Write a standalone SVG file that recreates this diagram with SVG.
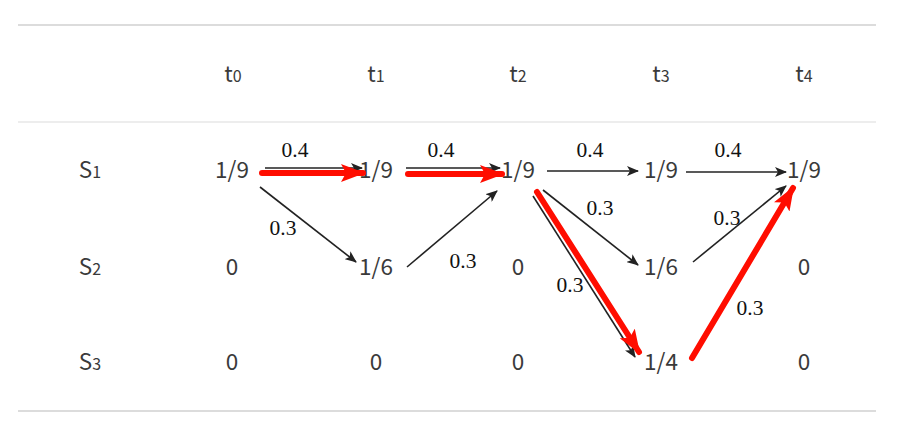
<svg xmlns="http://www.w3.org/2000/svg" width="909" height="435" viewBox="0 0 909 435">
<style>
.cell{font-family:"Noto Sans CJK SC","Noto Sans",sans-serif;font-size:22.5px;fill:#3a3a3a;text-anchor:middle}
.sub{font-size:16px}
.lbl{font-family:"Liberation Serif","Times New Roman",serif;font-size:21.5px;fill:#111;text-anchor:middle}
.rule{stroke:#dcdcdc;fill:none}
.blk{stroke:#222;stroke-width:1.6;fill:none;marker-end:url(#ah)}
.red{stroke:#ff0d00;stroke-width:6;fill:none;stroke-linecap:round;marker-end:url(#rh)}
</style>
<defs>
<marker id="ah" markerUnits="userSpaceOnUse" markerWidth="12" markerHeight="10" refX="11" refY="5" orient="auto"><path d="M0,0 L12,5 L0,10 L3,5 z" fill="#222"/></marker>
<marker id="rh" markerUnits="userSpaceOnUse" markerWidth="24" markerHeight="18" refX="22" refY="9" orient="auto"><path d="M0,0 L24,9 L0,18 L5,9 z" fill="#ff0d00"/></marker>
</defs>
<rect width="909" height="435" fill="#fff"/>
<g id="rules">
<line class="rule" x1="18" y1="25" x2="876" y2="25" stroke-width="2"/>
<line class="rule" x1="18" y1="122" x2="876" y2="122" stroke-width="1.2"/>
<line class="rule" x1="18" y1="411" x2="876" y2="411" stroke-width="2"/>
</g>
<g id="header">
<text class="cell" x="233" y="82">t<tspan class="sub">0</tspan></text>
<text class="cell" x="376" y="82">t<tspan class="sub">1</tspan></text>
<text class="cell" x="518" y="82">t<tspan class="sub">2</tspan></text>
<text class="cell" x="661" y="82">t<tspan class="sub">3</tspan></text>
<text class="cell" x="804" y="82">t<tspan class="sub">4</tspan></text>
</g>
<g id="rowlabels">
<text class="cell" x="90" y="178">S<tspan class="sub">1</tspan></text>
<text class="cell" x="90" y="275">S<tspan class="sub">2</tspan></text>
<text class="cell" x="90" y="370">S<tspan class="sub">3</tspan></text>
</g>
<g id="n-s1-t0"><text class="cell" x="232" y="178">1/9</text></g>
<g id="n-s1-t1"><text class="cell" x="376" y="178">1/9</text></g>
<g id="n-s1-t2"><text class="cell" x="518" y="178">1/9</text></g>
<g id="n-s1-t3"><text class="cell" x="661" y="178">1/9</text></g>
<g id="n-s1-t4"><text class="cell" x="804" y="178">1/9</text></g>
<g id="n-s2-t0"><text class="cell" x="232" y="275">0</text></g>
<g id="n-s2-t1"><text class="cell" x="376" y="275">1/6</text></g>
<g id="n-s2-t2"><text class="cell" x="518" y="275">0</text></g>
<g id="n-s2-t3"><text class="cell" x="661" y="275">1/6</text></g>
<g id="n-s2-t4"><text class="cell" x="804" y="275">0</text></g>
<g id="n-s3-t0"><text class="cell" x="232" y="370">0</text></g>
<g id="n-s3-t1"><text class="cell" x="376" y="370">0</text></g>
<g id="n-s3-t2"><text class="cell" x="518" y="370">0</text></g>
<g id="n-s3-t3"><text class="cell" x="661" y="370">1/4</text></g>
<g id="n-s3-t4"><text class="cell" x="804" y="370">0</text></g>
<g id="connectors">
<line class="blk" x1="265" y1="168" x2="362" y2="168"/>
<line class="blk" x1="260" y1="187" x2="356" y2="262"/>
<line class="blk" x1="406" y1="168" x2="500" y2="168"/>
<line class="blk" x1="407" y1="267" x2="497" y2="191"/>
<line class="blk" x1="547" y1="171" x2="638" y2="171"/>
<line class="blk" x1="686" y1="172" x2="786" y2="172"/>
<line class="blk" x1="543" y1="190" x2="638" y2="265"/>
<line class="blk" x1="533" y1="196" x2="635" y2="357"/>
<line class="blk" x1="693" y1="262" x2="786" y2="186"/>
<line class="red" x1="262" y1="173" x2="363" y2="173"/>
<line class="red" x1="408" y1="174" x2="502" y2="174"/>
<line class="red" x1="537" y1="192" x2="639" y2="352"/>
<line class="red" x1="692" y1="358" x2="793" y2="188"/>
<text class="lbl" x="295" y="157">0.4</text>
<text class="lbl" x="441" y="157">0.4</text>
<text class="lbl" x="590" y="157">0.4</text>
<text class="lbl" x="728" y="157">0.4</text>
<text class="lbl" x="283" y="235">0.3</text>
<text class="lbl" x="463" y="268">0.3</text>
<text class="lbl" x="600" y="215">0.3</text>
<text class="lbl" x="570" y="292">0.3</text>
<text class="lbl" x="727" y="225">0.3</text>
<text class="lbl" x="750" y="315">0.3</text>
</g>
</svg>
